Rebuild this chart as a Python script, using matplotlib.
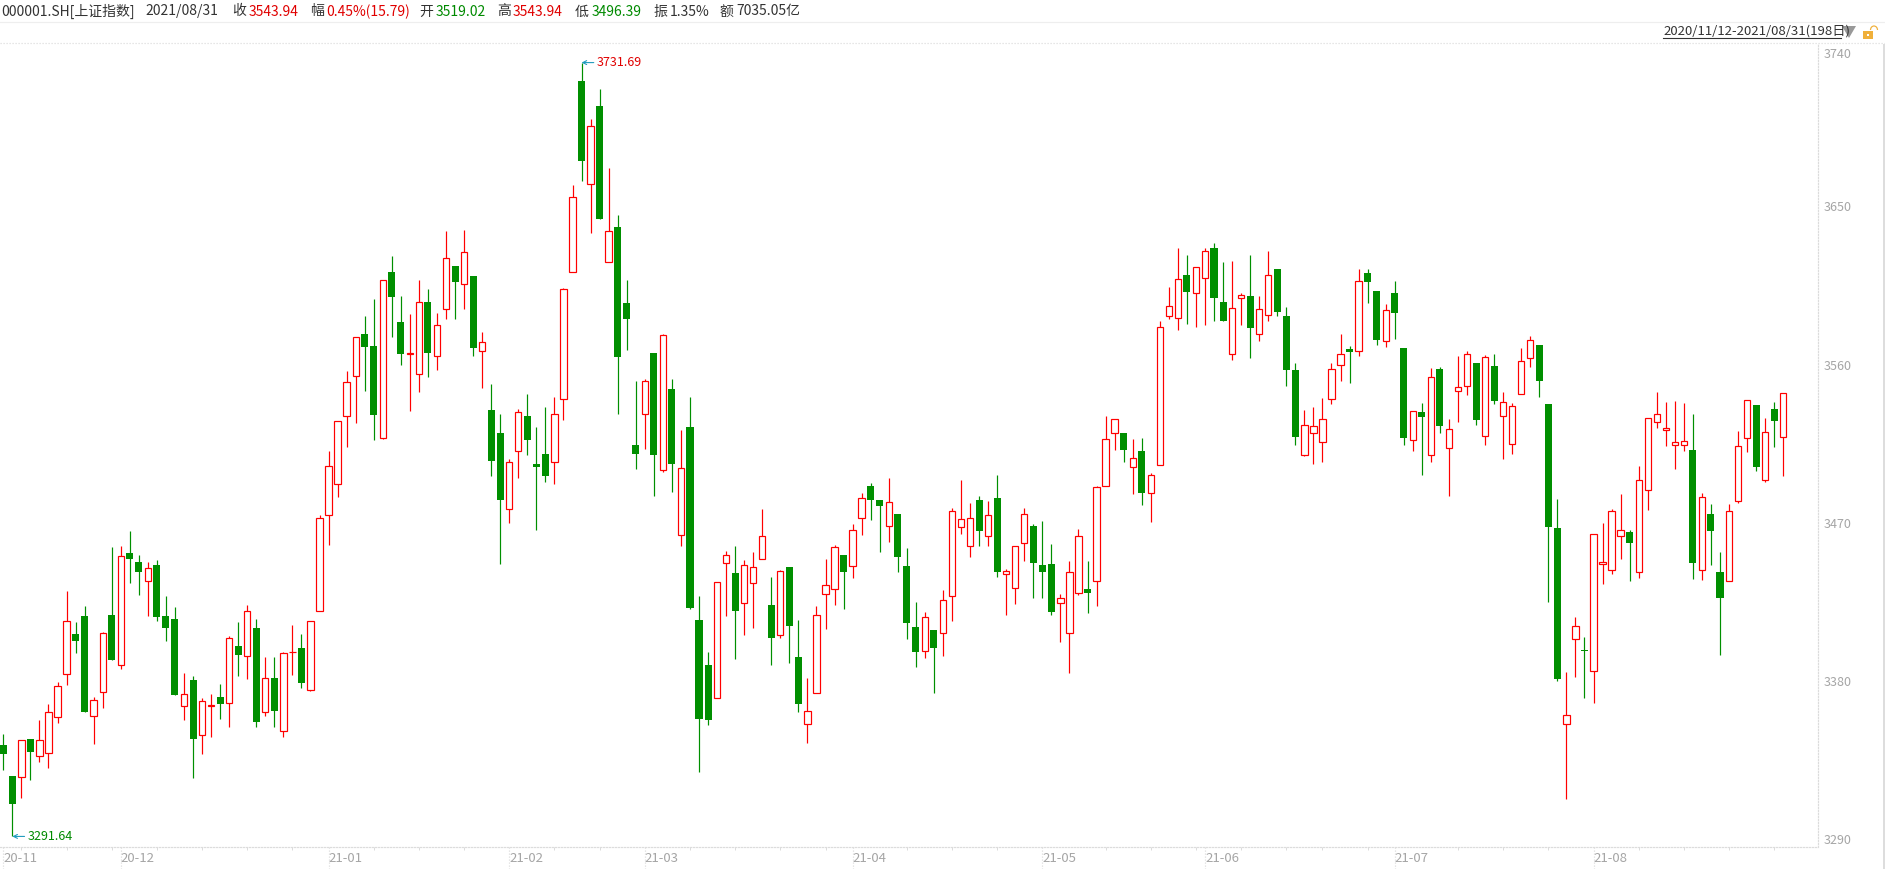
import numpy as np
import matplotlib
matplotlib.use('Agg')
import matplotlib.pyplot as plt
from matplotlib.patches import Rectangle, Polygon, Arc

plt.rcParams['font.family'] = ['Noto Sans CJK SC', 'DejaVu Sans']

# Daily OHLC, 2020/11/12 - 2021/08/31
opens = [3343.6,3326.2,3325.3,3346.8,3337.3,3338.9,3359.4,3384.0,3406.7,3416.8,
         3360.0,3373.6,3417.4,3389.0,3452.8,3447.7,3437.0,3445.8,3416.8,3415.2,
         3366.0,3380.5,3349.3,3366.0,3370.7,3367.6,3399.8,3394.1,3410.2,3362.2,
         3381.5,3351.5,3396.4,3398.8,3374.8,3419.9,3474.5,3492.2,3530.7,3553.4,
         3577.4,3570.5,3518.4,3612.7,3584.3,3566.1,3554.7,3595.7,3564.8,3591.3,
         3616.2,3605.5,3610.5,3567.9,3534.2,3521.2,3477.7,3510.8,3530.7,3503.6,
         3509.2,3504.8,3540.2,3612.7,3721.0,3662.6,3706.8,3618.1,3638.3,3595.1,
         3514.3,3531.6,3566.7,3500.1,3546.2,3463.2,3524.4,3414.6,3389.0,3370.1,
         3447.4,3441.4,3424.4,3436.0,3449.6,3423.1,3406.1,3444.9,3393.5,3355.3,
         3373.2,3429.7,3432.6,3451.5,3445.2,3473.0,3490.9,3483.1,3467.9,3474.9,
         3445.5,3410.5,3397.2,3408.9,3407.6,3428.2,3467.5,3456.6,3482.9,3462.2,
         3484.3,3440.6,3432.8,3458.3,3468.0,3446.2,3446.6,3424.3,3407.1,3429.9,
         3432.3,3436.7,3490.9,3521.0,3521.2,3501.6,3511.0,3486.7,3502.8,3587.5,
         3586.3,3610.9,3600.6,3609.2,3626.2,3595.6,3565.9,3597.7,3599.0,3577.3,
         3588.0,3614.5,3587.5,3556.9,3508.8,3521.0,3515.9,3540.4,3559.6,3568.8,
         3567.6,3612.1,3601.9,3573.4,3600.6,3569.5,3517.1,3532.9,3508.6,3557.2,
         3512.4,3544.9,3548.0,3560.7,3519.3,3559.4,3530.7,3514.9,3543.3,3563.8,
         3571.1,3537.6,3467.0,3355.6,3403.9,3397.9,3385.6,3446.5,3443.3,3462.2,
         3464.7,3442.0,3488.8,3527.5,3522.8,3514.3,3514.3,3511.5,3443.0,3474.9,
         3442.0,3437.0,3482.4,3518.4,3537.0,3494.4,3534.8,3519.02]
closes = [3338.5,3309.8,3346.4,3339.5,3346.4,3362.2,3377.0,3414.0,3402.6,3362.2,
          3369.1,3407.6,3391.9,3451.2,3449.3,3442.0,3444.2,3416.5,3410.2,3372.0,
          3372.6,3347.1,3368.5,3366.5,3366.9,3404.5,3394.7,3419.6,3356.5,3381.5,
          3362.8,3396.0,3396.8,3378.9,3414.0,3472.6,3502.3,3527.9,3550.3,3575.8,
          3570.1,3531.3,3608.3,3598.5,3566.0,3566.5,3595.7,3566.7,3582.5,3620.6,
          3607.1,3624.1,3569.5,3573.0,3505.1,3483.1,3504.5,3532.9,3517.1,3501.7,
          3496.6,3532.0,3603.0,3655.0,3675.5,3695.7,3643.0,3636.1,3564.5,3585.6,
          3509.2,3550.6,3508.6,3576.5,3503.6,3501.0,3421.5,3358.7,3357.8,3436.4,
          3451.8,3419.9,3445.8,3444.9,3462.5,3404.5,3442.7,3411.1,3366.9,3362.8,
          3417.4,3434.4,3456.2,3442.0,3465.7,3484.0,3483.1,3479.6,3481.8,3450.6,
          3413.0,3396.6,3416.5,3398.8,3425.9,3476.8,3472.4,3472.6,3465.6,3474.3,
          3441.8,3442.3,3456.6,3474.8,3447.4,3441.8,3419.0,3427.5,3441.8,3462.2,
          3429.9,3490.1,3517.6,3529.0,3511.3,3506.7,3486.7,3497.0,3581.2,3593.4,
          3608.7,3601.1,3615.5,3624.5,3597.7,3584.6,3592.2,3599.4,3580.7,3591.4,
          3610.9,3590.0,3556.7,3518.6,3525.6,3524.9,3529.0,3557.4,3565.9,3566.9,
          3607.5,3606.7,3574.0,3590.9,3589.2,3518.4,3533.5,3530.4,3553.1,3525.3,
          3523.4,3547.4,3566.0,3528.5,3564.5,3539.2,3538.6,3536.4,3561.9,3573.9,
          3550.9,3467.6,3381.2,3360.9,3411.1,3396.9,3463.5,3447.7,3476.8,3465.7,
          3458.4,3494.4,3529.8,3532.0,3524.1,3515.9,3516.5,3447.1,3484.6,3465.4,
          3427.2,3476.8,3513.7,3539.8,3501.7,3521.5,3527.9,3543.94]
highs = [3349.9,3326.2,3346.4,3346.8,3358.1,3367.0,3379.2,3431.0,3413.3,3422.5,
         3370.7,3408.0,3456.2,3456.8,3465.4,3451.5,3447.7,3448.7,3428.2,3422.2,
         3384.3,3382.7,3370.1,3372.9,3378.3,3405.4,3413.3,3423.1,3415.2,3393.5,
         3393.5,3396.3,3411.7,3406.7,3414.0,3474.5,3510.8,3527.9,3556.2,3575.8,
         3587.8,3597.2,3608.3,3621.9,3598.8,3588.8,3608.3,3602.7,3589.4,3636.1,
         3616.2,3636.7,3610.5,3578.6,3549.0,3531.6,3506.1,3534.8,3543.3,3524.4,
         3535.8,3541.4,3603.6,3662.3,3731.69,3699.5,3716.8,3672.0,3645.2,3608.3,
         3550.6,3551.8,3566.7,3577.4,3551.8,3522.8,3541.4,3428.2,3396.3,3436.4,
         3454.0,3456.8,3448.7,3453.4,3477.7,3439.2,3443.3,3444.9,3414.6,3381.8,
         3422.5,3449.3,3457.2,3451.5,3469.2,3487.2,3492.9,3483.1,3495.4,3474.9,
         3455.6,3425.0,3419.3,3408.9,3431.9,3478.3,3494.3,3481.4,3485.3,3482.6,
         3497.2,3443.5,3456.6,3478.5,3469.2,3471.2,3458.1,3429.4,3448.1,3466.3,
         3448.4,3491.1,3531.0,3529.0,3521.2,3517.8,3518.3,3498.4,3584.6,3603.8,
         3626.4,3622.5,3615.5,3626.4,3629.3,3618.4,3619.1,3600.9,3622.0,3599.2,
         3624.7,3614.5,3592.6,3561.1,3534.4,3535.8,3540.7,3560.6,3577.6,3570.8,
         3614.5,3614.5,3601.9,3594.6,3607.7,3569.5,3533.5,3537.9,3557.8,3558.5,
         3529.1,3564.8,3567.6,3560.7,3565.4,3565.7,3544.6,3538.3,3569.2,3576.1,
         3571.1,3537.6,3483.7,3384.9,3416.2,3404.8,3463.5,3470.1,3477.7,3486.2,
         3465.7,3502.3,3529.8,3544.3,3538.6,3539.5,3537.9,3531.6,3487.2,3480.5,
         3453.1,3480.5,3522.2,3539.8,3537.0,3529.8,3538.6,3543.94]
lows = [3329.4,3291.64,3313.3,3323.7,3333.8,3330.3,3355.9,3377.7,3396.0,3362.2,
        3344.2,3364.7,3391.9,3386.8,3435.7,3428.8,3417.1,3414.0,3402.6,3372.0,
        3357.8,3324.7,3338.5,3348.0,3358.7,3353.7,3382.7,3381.2,3353.7,3360.0,
        3353.7,3348.0,3383.3,3376.1,3374.2,3419.9,3457.5,3484.6,3513.0,3526.9,
        3544.9,3517.1,3517.7,3575.8,3559.7,3533.5,3544.6,3553.1,3556.6,3585.9,
        3585.6,3591.3,3565.1,3546.8,3496.6,3446.5,3469.8,3495.7,3508.6,3466.0,
        3493.2,3492.2,3528.5,3612.7,3664.2,3634.5,3643.0,3618.1,3532.0,3568.2,
        3500.7,3512.1,3485.3,3498.8,3487.5,3456.8,3420.9,3328.5,3354.9,3370.1,
        3417.1,3392.5,3406.1,3410.2,3449.6,3389.0,3404.5,3390.3,3362.2,3344.5,
        3373.2,3409.5,3423.1,3420.9,3438.6,3463.2,3471.7,3453.4,3459.1,3442.0,
        3403.9,3387.8,3393.1,3373.2,3394.1,3414.0,3463.7,3450.3,3456.6,3456.6,
        3438.9,3417.3,3423.6,3448.1,3427.0,3427.0,3417.3,3402.0,3384.7,3428.7,
        3418.5,3422.9,3490.9,3511.3,3504.5,3486.3,3480.0,3470.2,3502.8,3585.6,
        3579.5,3582.9,3581.2,3582.4,3584.9,3584.6,3562.5,3582.4,3563.5,3573.2,
        3584.6,3587.5,3547.7,3514.0,3507.9,3503.7,3504.5,3537.5,3550.4,3549.4,
        3564.7,3594.8,3571.0,3569.8,3574.4,3514.3,3510.8,3497.2,3504.5,3521.2,
        3485.3,3527.5,3542.7,3525.7,3514.3,3537.6,3506.4,3509.2,3543.3,3558.8,
        3541.7,3425.0,3379.9,3312.7,3382.1,3370.4,3367.6,3435.1,3441.1,3449.3,
        3437.0,3438.6,3477.4,3524.1,3513.7,3500.7,3510.8,3437.9,3437.3,3446.1,
        3394.7,3437.0,3481.2,3510.2,3499.5,3493.2,3513.0,3496.39]

# Axis labels
month_idx = [0, 13, 36, 56, 71, 94, 115, 133, 154, 176]
month_labels = ['20-11', '20-12', '21-01', '21-02', '21-03', '21-04', '21-05', '21-06', '21-07', '21-08']
minor_idx = [2, 7, 12, 17, 22, 27, 32, 41, 46, 51, 61, 66, 76, 81, 86, 91, 100, 105, 110,
             122, 127, 132, 137, 142, 146, 151, 161, 166, 171, 181, 186, 191, 196]
ytick_vals = [3290, 3380, 3470, 3560, 3650, 3740]

# Header strip: (x pixel, text, colour)
header = [(1, '000001.SH[上证指数]', '#333333'), (145, '2021/08/31', '#333333'),
          (232, '收', '#333333'), (249, '3543.94', '#e00000'),
          (310, '幅', '#333333'), (326, '0.45%(15.79)', '#e00000'),
          (419, '开', '#333333'), (436, '3519.02', '#008a00'),
          (497, '高', '#333333'), (513, '3543.94', '#e00000'),
          (575, '低', '#333333'), (592, '3496.39', '#008a00'),
          (653, '振', '#333333'), (670, '1.35%', '#333333'),
          (719, '额', '#333333'), (736, '7035.05亿', '#333333')]

RED = '#ff0000'
GREEN = '#008f00'
GREY = '#a5a5a5'
DOT = '#dcdcdc'
W, H = 1885, 869
px = 0.72  # one pixel in points at dpi 100

fig = plt.figure(figsize=(W / 100, H / 100), dpi=100, facecolor='white')

# Plot area in pixels: x 0-1818, y 42.7-847.4
ax = fig.add_axes([0, 1 - 847.4 / H, 1818.3 / W, (847.4 - 42.7) / H])
ax.set_xlim(-0.365, 200.88)
ax.set_ylim(3285.4, 3743.0)

o = np.array(opens)
c = np.array(closes)
hi = np.array(highs)
lo = np.array(lows)
x = np.arange(len(o))
up = c >= o

ax.vlines(x[up], lo[up], hi[up], color=RED, lw=1.2 * px, zorder=2)
ax.vlines(x[~up], lo[~up], hi[~up], color=GREEN, lw=1.2 * px, zorder=2)
ax.bar(x[up], (c - o)[up], bottom=o[up], width=0.7, facecolor='white', edgecolor=RED,
       linewidth=1.2 * px, zorder=3)
ax.bar(x[~up], (o - c)[~up], bottom=c[~up], width=0.78, color=GREEN, linewidth=0, zorder=3)

# High and low flags
ax.annotate('3731.69', xy=(64, 3731.69), xytext=(15, 0), textcoords='offset pixels',
            color='#e00000', fontsize=9, va='center', ha='left', annotation_clip=False,
            arrowprops=dict(arrowstyle='->', color='#1f9bbd', lw=1.1 * px, shrinkA=0, shrinkB=0,
                            mutation_scale=7))
ax.annotate('3291.64', xy=(1, 3291.64), xytext=(15, 0), textcoords='offset pixels',
            color='#008a00', fontsize=9, va='center', ha='left', annotation_clip=False,
            arrowprops=dict(arrowstyle='->', color='#1f9bbd', lw=1.1 * px, shrinkA=0, shrinkB=0,
                            mutation_scale=7))

for loc, spine in ax.spines.items():
    if loc in ('bottom', 'right'):
        spine.set_color(DOT)
        spine.set_linewidth(px * 1.2)
        spine.set_linestyle((0, (1, 1.5)))
    else:
        spine.set_visible(False)

ax.set_xticks(month_idx, month_labels)
ax.set_xticks(minor_idx, minor=True)
ax.tick_params(axis='x', which='major', length=0, pad=3.5, labelsize=9.5, labelcolor=GREY)
ax.tick_params(axis='x', which='minor', length=2.5, width=px, color=DOT)
for lab in ax.get_xticklabels():
    lab.set_ha('left')

ax.yaxis.tick_right()
ax.set_yticks(ytick_vals)
ax.tick_params(axis='y', length=0, pad=3.5, labelsize=9, labelcolor=GREY)
# the top label is pushed down to stay under the dotted line
ax.get_yticklabels()[-1].set_va('top')

# Long dotted month ticks below the axis
ax.vlines(month_idx, 0, -21.6 / 804.7, transform=ax.get_xaxis_transform(), clip_on=False,
          color=DOT, lw=px * 1.2, linestyles=(0, (1, 1.5)))

# Header and window furniture, in pixel coordinates
top = fig.add_axes([0, 0, 1, 1], facecolor='none')
top.set_xlim(0, W)
top.set_ylim(H, 0)
top.axis('off')
for hx, txt, col in header:
    top.text(hx, 11.5, txt, color=col, fontsize=10, ha='left', va='center')
top.plot([0, W], [21.7, 21.7], color='#eeeeee', lw=1.2 * px)
top.plot([0, W], [42.7, 42.7], color=DOT, lw=1.2 * px, ls=(0, (1, 1.5)))
top.text(1663, 31.5, '2020/11/12-2021/08/31(198日)', color='#333333', fontsize=9.5, ha='left', va='center')
top.plot([1663, 1841], [38.3, 38.3], color='#333333', lw=1.1 * px)
top.add_patch(Polygon([(1842, 26), (1856, 26), (1849, 38)], closed=True, color='#999999', lw=0))
top.add_patch(Rectangle((1863, 31), 10, 8, color='#f0b03a', lw=0))
top.add_patch(Rectangle((1867, 34), 2, 2, color='white', lw=0))
top.add_patch(Arc((1874, 30), 7, 8, theta1=180, theta2=360, color='#f0b03a', lw=1.2 * px))
top.add_patch(Rectangle((1882.7, 44), 2.3, H - 44, color='#dddddd', lw=0))

plt.savefig('out.png', dpi=100)
